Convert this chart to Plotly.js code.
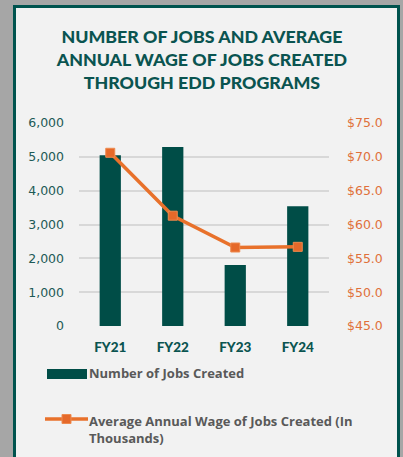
<!DOCTYPE html>
<html>
<head>
<meta charset="utf-8">
<script src="https://cdn.plot.ly/plotly-3.0.1.min.js"></script>
<style>
  html, body { margin: 0; padding: 0; width: 403px; height: 457px; overflow: hidden; background: #a6a6a6; }
  #panel { position: absolute; left: 13px; top: 5px; width: 381px; height: 470px; background: #f2f2f2; border: 3px solid #00534e; box-sizing: content-box; }
  #chart { position: absolute; left: 0; top: 0; width: 403px; height: 457px; }
</style>
</head>
<body>
<div id="panel"></div>
<div id="chart"></div>
<script>
const categories = ["FY21", "FY22", "FY23", "FY24"];
const jobsCreated = [5050, 5290, 1800, 3540];
const avgWage = [70.6, 61.3, 56.6, 56.7];
const leftTicks = [0, 1000, 2000, 3000, 4000, 5000, 6000];
const rightTicks = [45, 50, 55, 60, 65, 70, 75];
const titleText = "NUMBER OF JOBS AND AVERAGE<br>ANNUAL WAGE OF JOBS CREATED<br>THROUGH EDD PROGRAMS";
const legendNames = ["Number of Jobs Created", "Average Annual Wage of Jobs Created (In<br>Thousands)"];

const GREEN = "#004d47";
const ORANGE = "#e8712b";
const TITLE_FONT = "Lato, 'Open Sans', sans-serif";
const LEGEND_FONT = "'Open Sans', Lato, sans-serif";

// page-pixel helpers for the non-data decorations (legend)
const W = 403, H = 457;
const M = { l: 79, r: 74, t: 123, b: 131 };
const PW = W - M.l - M.r, PH = H - M.t - M.b;
const px = x => (x - M.l) / PW;
const py = y => (H - M.b - y) / PH;

const traces = [
  {
    type: "bar", x: categories, y: jobsCreated, name: legendNames[0],
    marker: { color: GREEN, line: { width: 0 } }, width: 0.34, showlegend: false,
    hoverinfo: "x+y"
  },
  {
    type: "scatter", mode: "lines+markers", x: categories, y: avgWage, name: legendNames[1],
    yaxis: "y2", line: { color: ORANGE, width: 3.5 },
    marker: { symbol: "square", size: 9, color: "#e5692a", line: { color: "#ee8a4e", width: 1 } },
    showlegend: false
  }
];

const layout = {
  width: W, height: H,
  margin: M,
  paper_bgcolor: "rgba(0,0,0,0)",
  plot_bgcolor: "rgba(0,0,0,0)",
  showlegend: false,
  title: {
    text: titleText,
    font: { family: TITLE_FONT, size: 17.8, color: "#0a5450", weight: 900 },
    x: 0.501, xref: "container", xanchor: "center",
    y: 1 - 42.5 / H, yref: "container", yanchor: "middle"
  },
  xaxis: {
    type: "category",
    tickfont: { family: TITLE_FONT, size: 13.5, color: "#0a5450", weight: 900 },
    showgrid: false, zeroline: false, showline: false, ticks: "",
    ticklabelstandoff: 11, fixedrange: true
  },
  yaxis: {
    range: [0, 6000], tickvals: leftTicks, tickformat: ",d",
    tickfont: { family: "'DejaVu Sans', Verdana, sans-serif", size: 12.5, color: "#1d5a56" },
    showgrid: true, gridcolor: "#d8d8d8", gridwidth: 2,
    zeroline: false, showline: false, ticks: "", ticklabelstandoff: 14, fixedrange: true
  },
  yaxis2: {
    overlaying: "y", side: "right",
    range: [45, 75], tickvals: rightTicks, tickformat: "$.1f",
    tickfont: { family: "'DejaVu Sans', Verdana, sans-serif", size: 12.5, color: "#e0703a" },
    showgrid: false, zeroline: false, showline: false, ticks: "", ticklabelstandoff: 17, fixedrange: true
  },
  shapes: [
    { type: "rect", xref: "paper", yref: "paper", x0: px(47), x1: px(87), y0: py(379), y1: py(369),
      fillcolor: GREEN, line: { width: 0 } },
    { type: "line", xref: "paper", yref: "paper", x0: px(45), x1: px(88), y0: py(419), y1: py(419),
      line: { color: ORANGE, width: 3.5 } },
    { type: "rect", xref: "paper", yref: "paper", x0: px(62), x1: px(71), y0: py(423.5), y1: py(414.5),
      fillcolor: "#e5692a", line: { color: "#ee8a4e", width: 1 } }
  ],
  annotations: [
    { xref: "paper", yref: "paper", x: px(87), y: py(372.5), xanchor: "left", yanchor: "middle",
      text: legendNames[0], showarrow: false, align: "left",
      font: { family: LEGEND_FONT, size: 13, color: "#595959", weight: 700 } },
    { xref: "paper", yref: "paper", x: px(87), y: py(429.5), xanchor: "left", yanchor: "middle",
      text: legendNames[1], showarrow: false, align: "left",
      font: { family: LEGEND_FONT, size: 13, color: "#595959", weight: 700 } }
  ]
};

Plotly.newPlot("chart", traces, layout, { displayModeBar: false, staticPlot: true });
</script>
</body>
</html>
